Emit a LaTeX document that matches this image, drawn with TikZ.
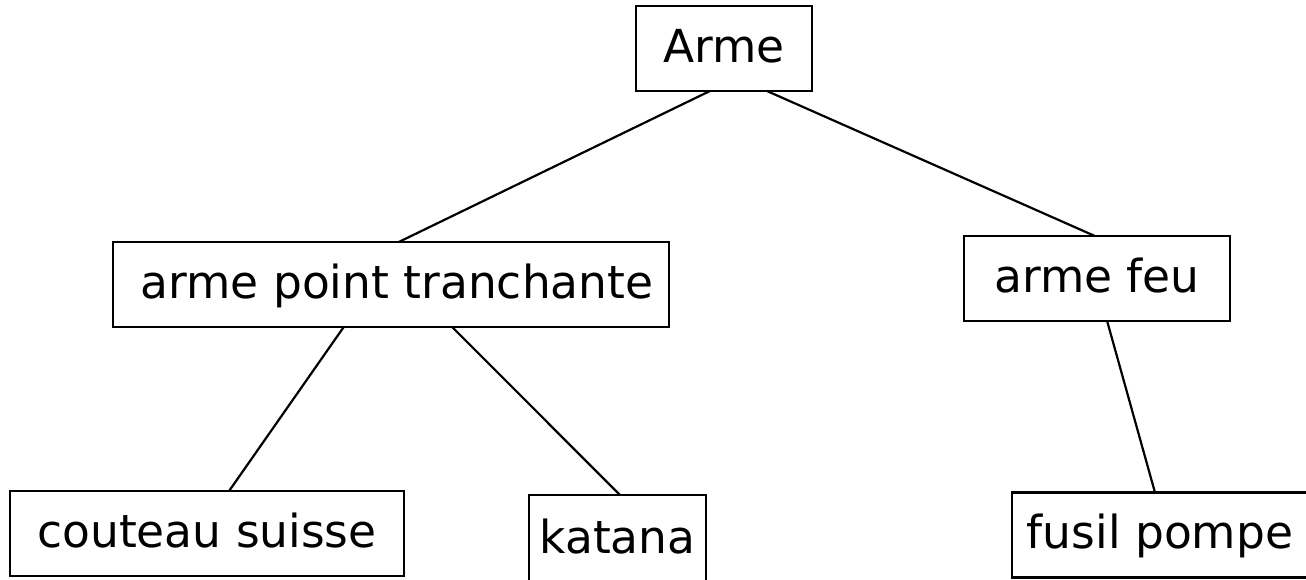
\documentclass[tikz,border=0pt]{standalone}
\usepackage{fontspec}
\setmainfont{DejaVu Sans}
\usetikzlibrary{calc}
\tikzset{
  box/.style={draw=black, line width=2.2pt, rectangle, inner sep=0pt, outer sep=0pt,
    minimum height=85pt, font=\fontsize{45.5pt}{54pt}\selectfont,
    text height=36.4pt, text depth=9.4pt},
  link/.style={draw=black, line width=2.2pt}
}
\begin{document}
\begin{tikzpicture}[x=1pt,y=-1pt]
  \useasboundingbox (0,0) rectangle (1306,579);

  % tree of weapons
  \node[box, minimum width=176pt] (arme)    at (724,48.5)   {Arme};
  \node[box, minimum width=556pt] (apt)     at (391,284.5)  {\hspace{12pt}arme point tranchante};
  \node[box, minimum width=266pt] (feu)     at (1097,278.5) {arme feu};
  \node[box, minimum width=394pt] (couteau) at (207,533.5)  {couteau suisse};
  \node[box, minimum width=177pt, minimum height=90pt] (katana) at (617.5,540) {katana};
  \node[box, minimum width=296pt] (fusil)   at (1160,535)   {fusil pompe};

  % connectors between parent and child boxes
  \draw[link] ($(arme.south west)!0.42!(arme.south east)$)  -- ($(apt.north west)!0.514!(apt.north east)$);
  \draw[link] ($(arme.south west)!0.744!(arme.south east)$) -- ($(feu.north west)!0.492!(feu.north east)$);
  \draw[link] ($(apt.south west)!0.415!(apt.south east)$)   -- ($(couteau.north west)!0.556!(couteau.north east)$);
  \draw[link] ($(apt.south west)!0.61!(apt.south east)$)    -- ($(katana.north west)!0.514!(katana.north east)$);
  \draw[link] ($(feu.south west)!0.538!(feu.south east)$)   -- ($(fusil.north west)!0.483!(fusil.north east)$);
\end{tikzpicture}
\end{document}
